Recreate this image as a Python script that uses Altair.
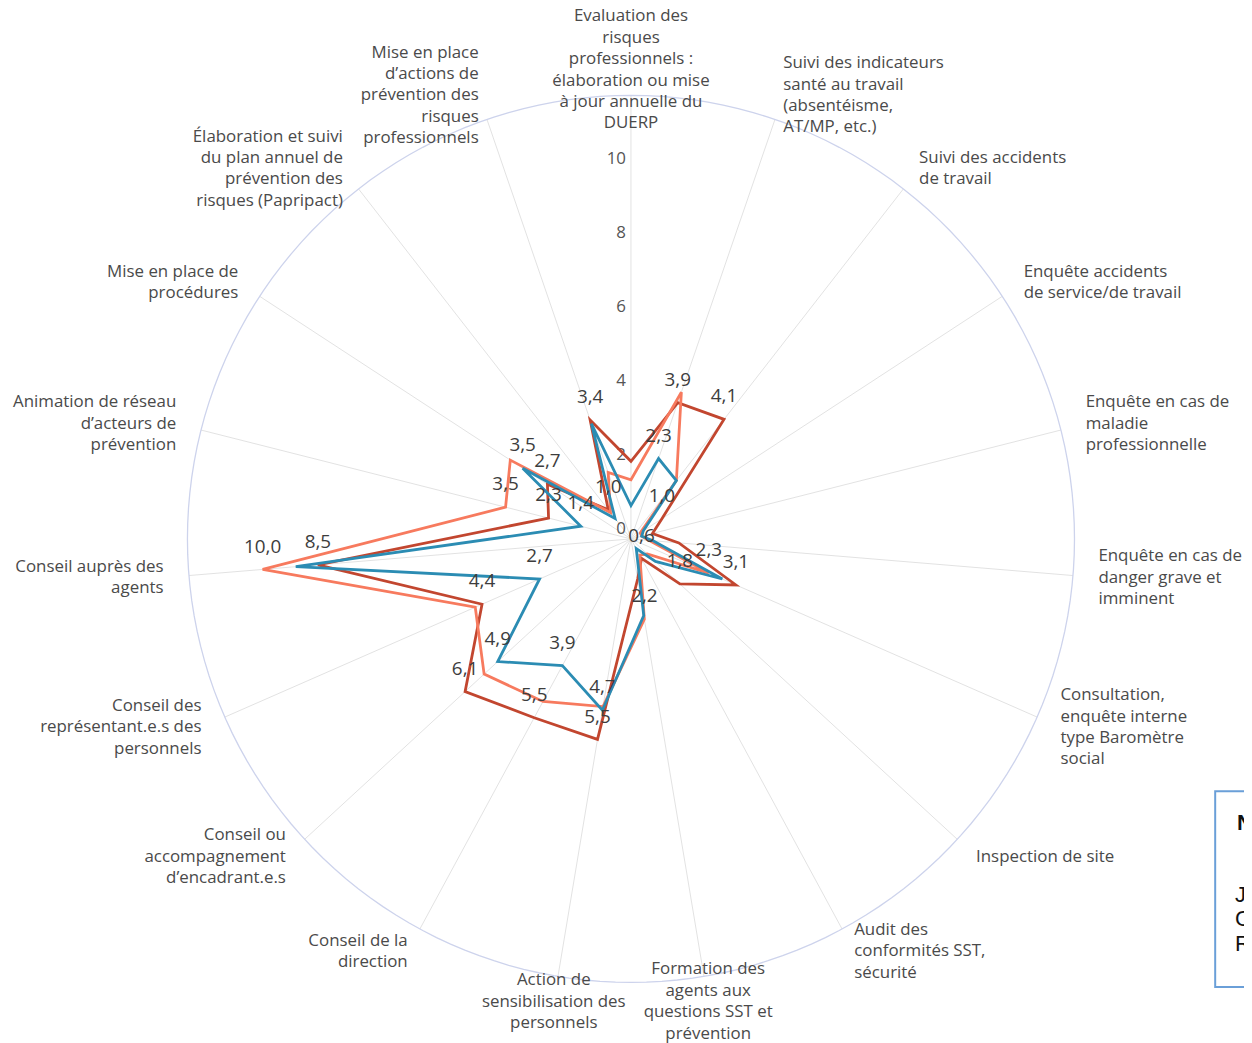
import math
import altair as alt
import pandas as pd

# ---------------- data ----------------
categories = [
    "Evaluation des\nrisques\nprofessionnels :\nélaboration ou mise\nà jour annuelle du\nDUERP",
    "Suivi des indicateurs\nsanté au travail\n(absentéisme,\nAT/MP, etc.)",
    "Suivi des accidents\nde travail",
    "Enquête accidents\nde service/de travail",
    "Enquête en cas de\nmaladie\nprofessionnelle",
    "Enquête en cas de\ndanger grave et\nimminent",
    "Consultation,\nenquête interne\ntype Baromètre\nsocial",
    "Inspection de site",
    "Audit des\nconformités SST,\nsécurité",
    "Formation des\nagents aux\nquestions SST et\nprévention",
    "Action de\nsensibilisation des\npersonnels",
    "Conseil de la\ndirection",
    "Conseil ou\naccompagnement\nd’encadrant.e.s",
    "Conseil des\nreprésentant.e.s des\npersonnels",
    "Conseil auprès des\nagents",
    "Animation de réseau\nd’acteurs de\nprévention",
    "Mise en place de\nprocédures",
    "Élaboration et suivi\ndu plan annuel de\nprévention des\nrisques (Papripact)",
    "Mise en place\nd’actions de\nprévention des\nrisques\nprofessionnels",
]

series_names = ["Série 1", "Série 2", "Série 3"]
series_colors = ["#c2462f", "#f77a5e", "#2b8cb3"]

values_s1 = [2.1, 3.9, 4.1, 1.0, 0.6, 1.3, 3.1, 1.8, 0.6, 1.1, 5.5, 5.5, 6.1, 4.4, 8.5, 2.3, 2.7, 1.0, 3.4]
values_s2 = [1.6, 4.2, 2.0, 0.3, 0.3, 0.5, 2.3, 0.6, 0.5, 2.2, 4.6, 5.0, 5.4, 4.6, 10.0, 3.5, 3.9, 0.9, 1.9]
values_s3 = [0.9, 2.3, 2.0, 0.4, 0.3, 0.6, 2.7, 0.9, 0.3, 2.1, 4.7, 3.9, 4.9, 2.7, 9.1, 1.4, 3.5, 0.7, 3.3]

# which values carry a visible data label (1 = shown)
shown_s1 = [0, 1, 1, 1, 0, 0, 1, 1, 1, 0, 1, 1, 1, 1, 1, 1, 1, 1, 1]
shown_s2 = [0, 0, 0, 0, 0, 0, 1, 0, 0, 1, 0, 0, 0, 0, 1, 1, 0, 0, 0]
shown_s3 = [0, 1, 0, 0, 0, 0, 0, 0, 0, 0, 1, 1, 1, 1, 0, 1, 1, 0, 0]

tick_values = [0, 2, 4, 6, 8, 10]
r_max = 12
label_radius = 12.69

note_lines = ["Ja", "C", "R"]
note_title = "N"

# ---------------- tables ----------------
n = len(categories)
rows = []
for name, vals, shown in zip(series_names,
                             [values_s1, values_s2, values_s3],
                             [shown_s1, shown_s2, shown_s3]):
    for i, (v, s) in enumerate(zip(vals, shown)):
        rows.append({
            "serie": name,
            "idx": i,
            "value": v,
            "label": (f"{v:.1f}".replace(".", ",") if s else ""),
        })
df = pd.DataFrame(rows)

df_cat = pd.DataFrame({
    "idx": list(range(n)),
    "cat": categories,
    "nl": [c.count("\n") + 1 for c in categories],
})
df_ticks = pd.DataFrame({"v": tick_values, "t": [str(t) for t in tick_values]})

W, H = 1244, 1035
k = 37.2
cx, cy = 627, 531
LH = 21.5
xscale = alt.Scale(domain=[-cx / k, (W - cx) / k], nice=False, zero=False)
yscale = alt.Scale(domain=[-(H - cy) / k, cy / k], nice=False, zero=False)

ang = f"datum.idx * 2 * PI / {n}"

font = "Open Sans"

# spokes
spokes = alt.Chart(df_cat).transform_calculate(
    a=ang,
    z="0",
    sx=f"{r_max} * sin(datum.a)",
    sy=f"{r_max} * cos(datum.a)",
).mark_rule(color="#e2e2e2", strokeWidth=1).encode(
    x=alt.X("z:Q", scale=xscale, axis=None),
    y=alt.Y("z:Q", scale=yscale, axis=None),
    x2="sx:Q",
    y2="sy:Q",
)

# outer circle
circle = alt.Chart(alt.sequence(0, 361, 2, as_="deg")).transform_calculate(
    cxp=f"{r_max} * sin(datum.deg * PI / 180)",
    cyp=f"{r_max} * cos(datum.deg * PI / 180)",
).mark_line(color="#cdd3ec", strokeWidth=1.3).encode(
    x=alt.X("cxp:Q", scale=xscale, axis=None),
    y=alt.Y("cyp:Q", scale=yscale, axis=None),
    order="deg:Q",
)

# tick labels
ticks = alt.Chart(df_ticks).transform_calculate(z="0").mark_text(
    align="right", baseline="middle", dx=-5, dy=-10, fontSize=17, font=font, color="#555555"
).encode(
    x=alt.X("z:Q", scale=xscale, axis=None),
    y=alt.Y("v:Q", scale=yscale, axis=None),
    text="t:N",
)

def series_layer(name, color):
    return alt.Chart(df).transform_filter(
        alt.datum.serie == name
    ).transform_calculate(
        a=ang,
        px="datum.value * sin(datum.a)",
        py="datum.value * cos(datum.a)",
    ).mark_line(interpolate="linear-closed", strokeWidth=2.8, color=color).encode(
        x=alt.X("px:Q", scale=xscale, axis=None),
        y=alt.Y("py:Q", scale=yscale, axis=None),
        order="idx:Q",
    )

lines = [series_layer(nm, c) for nm, c in zip(series_names, series_colors)]

value_labels = alt.Chart(df).transform_filter(
    alt.datum.label != ""
).transform_calculate(
    a=ang,
    px="datum.value * sin(datum.a)",
    py="datum.value * cos(datum.a)",
).mark_text(
    align="center", baseline="middle", dy=-23, fontSize=19, font=font, color="#3d3d3d"
).encode(
    x=alt.X("px:Q", scale=xscale, axis=None),
    y=alt.Y("py:Q", scale=yscale, axis=None),
    text="label:N",
)

def cat_layer(cond, align):
    return alt.Chart(df_cat).transform_calculate(
        a=ang,
        s="sin(datum.a)",
        lx=f"{label_radius} * sin(datum.a)",
        ly=f"{label_radius} * cos(datum.a) + (datum.nl - 1) * {LH} / 2 / {k}",
    ).transform_filter(cond).mark_text(
        align=align, baseline="middle", lineBreak="\n", lineHeight=LH,
        fontSize=17, font=font, color="#4a4a4a"
    ).encode(
        x=alt.X("lx:Q", scale=xscale, axis=None),
        y=alt.Y("ly:Q", scale=yscale, axis=None),
        text="cat:N",
    )

cat_left = cat_layer("datum.s > 0.2", "left")
cat_right = cat_layer("datum.s < -0.2", "right")
cat_center = cat_layer("abs(datum.s) <= 0.2", "center")

# note box at the right edge (cut off in the original)
note_df = pd.DataFrame({"t": [note_title] + note_lines, "row": list(range(1 + len(note_lines)))})
note_box = alt.Chart(pd.DataFrame({"a": [0]})).mark_rect(
    fill="white", stroke="#6a9fd8", strokeWidth=2
).encode(
    x=alt.value(1215), x2=alt.value(1262), y=alt.value(785), y2=alt.value(982)
)
note_title_txt = alt.Chart(note_df).transform_filter("datum.row == 0").mark_text(
    align="left", baseline="middle", fontSize=22, fontWeight="bold", font="Liberation Sans", color="#111111"
).encode(x=alt.value(1237), y=alt.value(817), text="t:N")
note_body_txt = alt.Chart(note_df).transform_filter("datum.row > 0").mark_text(
    align="left", baseline="middle", fontSize=22, font="Liberation Sans", color="#111111"
).encode(
    x=alt.value(1235),
    y=alt.Y("row:O", scale=alt.Scale(domain=[1, 2, 3], range=[877, 951]), axis=None),
    text="t:N",
)

chart = alt.layer(
    spokes, circle, ticks, *lines, value_labels, cat_left, cat_right, cat_center,
    note_box, note_title_txt, note_body_txt
).resolve_scale(y="independent").properties(
    width=W, height=H, padding=0, autosize=alt.AutoSizeParams(type="none")
).configure_view(strokeWidth=0)

chart.save("out.html", embed_options={"renderer": "svg", "actions": False})
